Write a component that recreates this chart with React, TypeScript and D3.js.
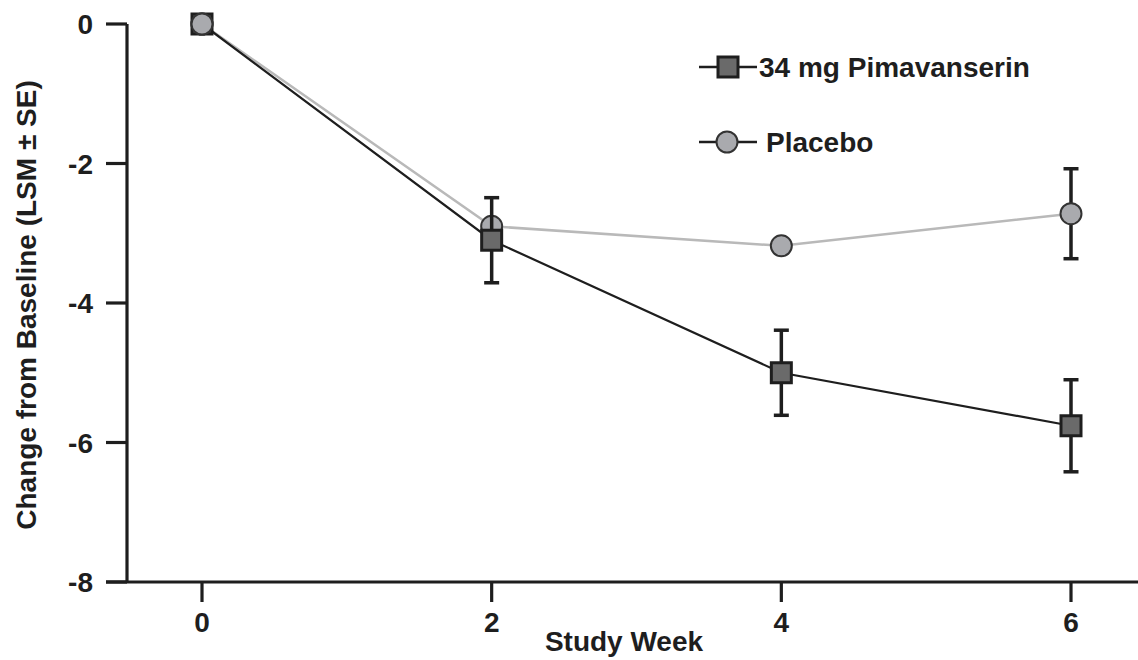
import * as d3 from 'd3'

// study weeks on the x axis
const weeks = [0, 2, 4, 6]
const xTicks = [0, 2, 4, 6]
const yTicks = [0, -2, -4, -6, -8]

// LSM change from baseline and SE (null = no bar drawn)
const pimaMean = [0, -3.1, -5.0, -5.76]
const pimaSE = [null, 0.61, 0.61, 0.66]
const placeboMean = [0, -2.9, -3.18, -2.72]
const placeboSE = [null, null, null, 0.645]

const legendLabels = ['34 mg Pimavanserin', 'Placebo']

const W = 1138
const H = 660
const FONT = '"Liberation Sans", Arial, sans-serif'
const INK = '#1e1e1e'

const App = () => {
  const x = d3.scaleLinear().domain([0, 6]).range([202, 1071])
  const y = d3.scaleLinear().domain([0, -8]).range([24, 582])

  const line = d3
    .line<number>()
    .x((_, i) => x(weeks[i]))
    .y((d) => y(d))

  const errBar = (i: number, mean: number[], se: (number | null)[], key: string) => {
    const s = se[i]
    if (s == null) return null
    const cx = x(weeks[i])
    const y1 = y(mean[i] + s)
    const y2 = y(mean[i] - s)
    return (
      <g key={key} stroke={INK} strokeWidth={3.5}>
        <line x1={cx} x2={cx} y1={y1} y2={y2} />
        <line x1={cx - 7.5} x2={cx + 7.5} y1={y1} y2={y1} />
        <line x1={cx - 7.5} x2={cx + 7.5} y1={y2} y2={y2} />
      </g>
    )
  }

  const square = (cx: number, cy: number, key: string) => (
    <rect key={key} x={cx - 10} y={cy - 10} width={20} height={20} fill="#6a6a6a" stroke={INK} strokeWidth={3} />
  )
  const circle = (cx: number, cy: number, key: string) => (
    <circle key={key} cx={cx} cy={cy} r={10.5} fill="#a9aaae" stroke="#333" strokeWidth={2} />
  )

  return (
    <svg width={W} height={H} style={{ position: 'absolute', left: 0, top: 0, background: '#fff' }} fontFamily={FONT} fontWeight="bold">
      {/* axes */}
      <line x1={127} x2={127} y1={y(0)} y2={y(-8)} stroke={INK} strokeWidth={3.2} />
      <line x1={106} x2={W} y1={y(-8)} y2={y(-8)} stroke={INK} strokeWidth={3.2} />
      {yTicks.map((t) => (
        <g key={'y' + t}>
          <line x1={106} x2={127} y1={y(t)} y2={y(t)} stroke={INK} strokeWidth={3.2} />
          <text x={93} y={y(t) + 10} textAnchor="end" fontSize={28} fill={INK}>
            {t}
          </text>
        </g>
      ))}
      {xTicks.map((t) => (
        <g key={'x' + t}>
          <line x1={x(t)} x2={x(t)} y1={y(-8)} y2={602} stroke={INK} strokeWidth={3.2} />
          <text x={x(t)} y={632} textAnchor="middle" fontSize={28} fill={INK}>
            {t}
          </text>
        </g>
      ))}
      <text x={624} y={651} textAnchor="middle" fontSize={28} fill={INK}>
        Study Week
      </text>
      <text transform="translate(36,305) rotate(-90)" textAnchor="middle" fontSize={28} fill={INK}>
        Change from Baseline (LSM ± SE)
      </text>

      {/* series lines */}
      <path d={line(placeboMean) ?? ''} fill="none" stroke="#b9b9b9" strokeWidth={2.5} />
      <path d={line(pimaMean) ?? ''} fill="none" stroke={INK} strokeWidth={2.2} />

      {/* markers and error bars */}
      {weeks.map((w, i) => errBar(i, placeboMean, placeboSE, 'pe' + w))}
      {weeks.map((w, i) => circle(x(w), y(placeboMean[i]), 'pc' + w))}
      {weeks.map((w, i) => errBar(i, pimaMean, pimaSE, 'me' + w))}
      {weeks.map((w, i) => square(x(w), y(pimaMean[i]), 'ms' + w))}
      {/* baseline placebo point sits on top of the square */}
      {circle(x(weeks[0]), y(placeboMean[0]), 'base')}

      {/* legend */}
      <g>
        <line x1={699} x2={757} y1={67} y2={67} stroke={INK} strokeWidth={2.5} />
        {square(728, 67, 'lg1')}
        <text x={759} y={77} fontSize={28} fill={INK}>
          {legendLabels[0]}
        </text>
        <line x1={699} x2={757} y1={142} y2={142} stroke={INK} strokeWidth={2.5} />
        {circle(727, 142, 'lg2')}
        <text x={766} y={152} fontSize={28} fill={INK}>
          {legendLabels[1]}
        </text>
      </g>
    </svg>
  )
}

export default App
